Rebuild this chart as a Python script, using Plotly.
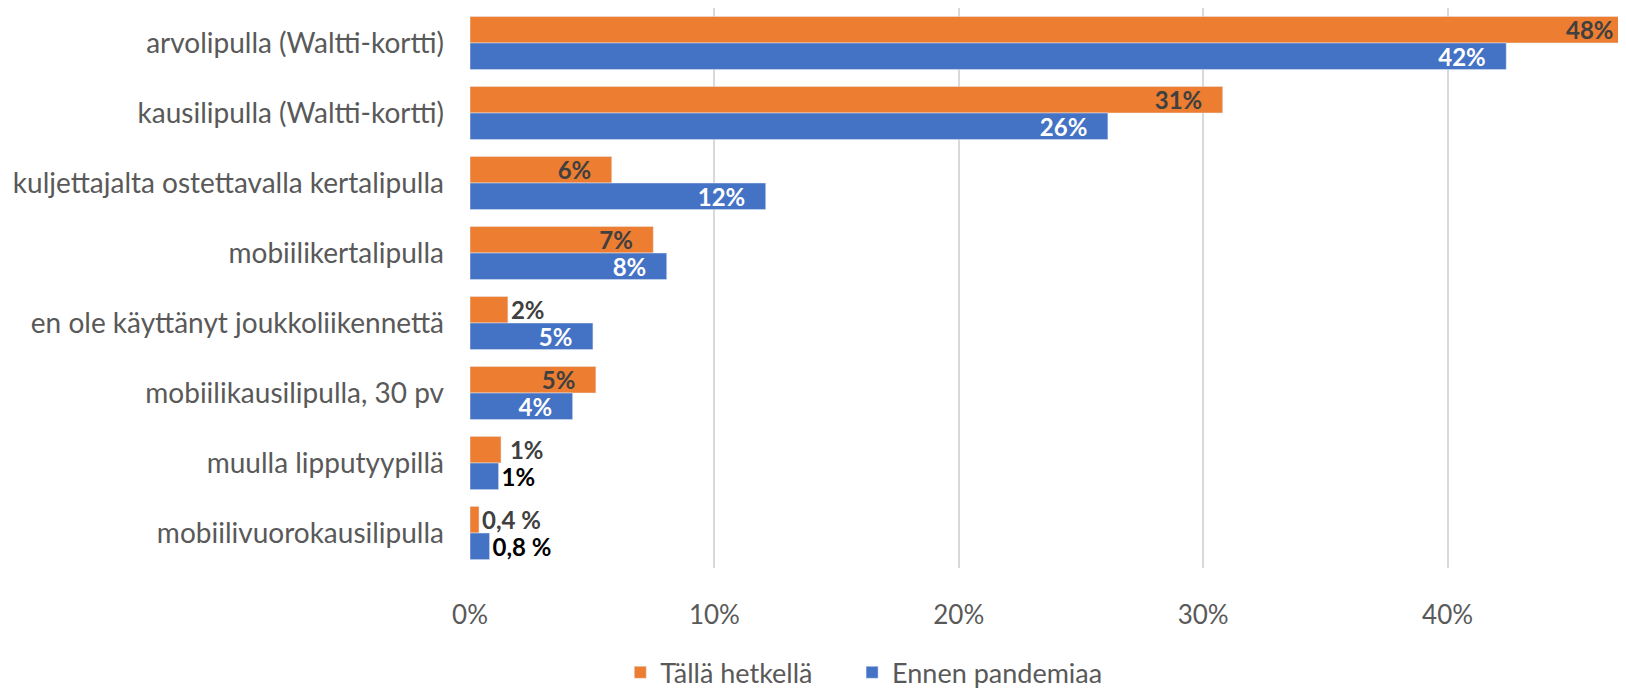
import plotly.graph_objects as go

categories = [
    "arvolipulla (Waltti-kortti)",
    "kausilipulla (Waltti-kortti)",
    "kuljettajalta ostettavalla kertalipulla",
    "mobiilikertalipulla",
    "en ole käyttänyt joukkoliikennettä",
    "mobiilikausilipulla, 30 pv",
    "muulla lipputyypillä",
    "mobiilivuorokausilipulla",
]
now_vals = [48.0, 30.8, 5.8, 7.5, 1.55, 5.15, 1.27, 0.37]
now_text = ["48%", "31%", "6%", "7%", "2%", "5%", " 1%", "0,4 %"]
before_vals = [42.4, 26.1, 12.1, 8.05, 5.03, 4.2, 1.17, 0.8]
before_text = ["42%", "26%", "12%", "8%", "5%", "4%", "1%", "0,8 %"]

XMAX = 47.3  # the axis stops short of the first bar, as in the original

ORANGE = "#ED7D31"
BLUE = "#4472C4"
GREY = "#595959"
DARK = "#404040"
FONT = "Lato"
PAD = "\u00a0\u00a0\u00a0"  # room between inside labels and the bar end

now_pos = ["inside", "inside", "inside", "inside", "outside", "inside", "outside", "outside"]
before_pos = ["inside"] * 6 + ["outside", "outside"]
before_col = ["white"] * 6 + ["black", "black"]


def padded(texts, positions):
    return [t + PAD if p == "inside" else t for t, p in zip(texts, positions)]


# the clipped bar gets its label from an annotation at the axis end
now_shown = ["" if v > XMAX else t for v, t in zip(now_vals, padded(now_text, now_pos))]

fig = go.Figure()
fig.add_trace(go.Bar(
    y=categories, x=now_vals, orientation="h", name="Tällä hetkellä" + "\u00a0" * 5,
    marker_color=ORANGE, text=now_shown, textposition=now_pos,
    insidetextanchor="end", textangle=0, constraintext="none",
    textfont=dict(family=FONT, size=24, color=DARK, weight="bold"),
))
fig.add_trace(go.Bar(
    y=categories, x=before_vals, orientation="h", name="Ennen pandemiaa",
    marker_color=BLUE, text=padded(before_text, before_pos), textposition=before_pos,
    insidetextanchor="end", textangle=0, constraintext="none",
    textfont=dict(family=FONT, size=24, color=before_col, weight="bold"),
))

bargap = 0.24
for i, (v, t) in enumerate(zip(now_vals, now_text)):
    if v > XMAX:
        fig.add_annotation(
            x=XMAX, y=i - (1 - bargap) / 4, xref="x", yref="y", text=t,
            showarrow=False, xanchor="right", yanchor="middle", xshift=-10,
            font=dict(family=FONT, size=24, color=DARK, weight="bold"),
        )

# page body has an 8px margin, so the figure is a bit smaller than the window
fig.update_layout(
    width=1618, height=682,
    barmode="group", bargap=bargap, bargroupgap=0,
    plot_bgcolor="white", paper_bgcolor="white",
    margin=dict(l=462, r=0, t=0, b=122, autoexpand=False),
    font=dict(family=FONT, size=25, color=GREY),
    legend=dict(orientation="h", x=0.13, xanchor="left", y=-0.187, yanchor="middle",
                font=dict(family=FONT, size=27, color=GREY), traceorder="normal"),
)
fig.update_xaxes(
    range=[0, XMAX], tickvals=[0, 10, 20, 30, 40], ticktext=["0%", "10%", "20%", "30%", "40%"],
    showgrid=True, gridcolor="#D9D9D9", gridwidth=1.5, zeroline=False,
    ticklabelstandoff=29, tickfont=dict(size=26, color=GREY),
)
fig.update_yaxes(
    categoryorder="array", categoryarray=categories, autorange="reversed",
    showgrid=False, ticklabelstandoff=25, tickfont=dict(size=28, color=GREY),
)

fig.write_html("out.html")
